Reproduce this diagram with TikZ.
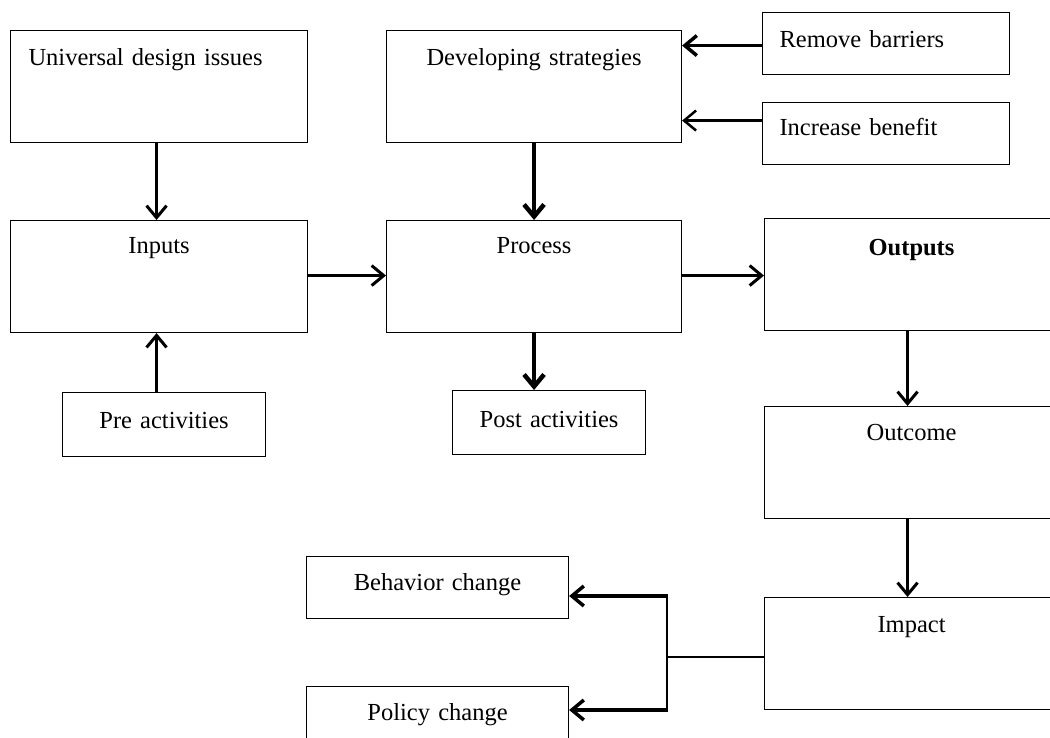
\documentclass[tikz,border=0pt]{standalone}
\usepackage{fontspec}
\setmainfont{Liberation Serif}
\usetikzlibrary{arrows.meta,calc}
\begin{document}
\begin{tikzpicture}[x=1pt,y=-1pt,
  box/.style={draw, line width=1.1pt, inner ysep=0pt, anchor=north west,
    font=\fontsize{24.5}{28}\selectfont},
  arr/.style={-{Straight Barb[length=12pt,width=20pt]}, line width=3pt},
  thickarr/.style={-{Straight Barb[length=12pt,width=20pt]}, line width=4.5pt},
]
\fill[white] (0,0) rectangle (1050,738);
\useasboundingbox (0,0) rectangle (1050,738);

% boxes
\node[box, inner xsep=18pt, text width=261pt, align=left, text height=35pt, text depth=77pt] (ud) at (10,30) {Universal design issues};
\node[box, inner xsep=18pt, text width=261pt, align=center, text height=33pt, text depth=79pt] (inp) at (10,220) {Inputs};
\node[box, inner xsep=18pt, text width=167pt, align=center, text height=36pt, text depth=28pt] (pre) at (62,392) {Pre activities};
\node[box, inner xsep=18pt, text width=259pt, align=center, text height=35pt, text depth=77pt] (dev) at (386,30) {Developing strategies};
\node[box, inner xsep=18pt, text width=259pt, align=center, text height=33pt, text depth=79pt] (proc) at (386,220) {Process};
\node[box, inner xsep=18pt, text width=157pt, align=center, text height=37pt, text depth=27pt] (post) at (452,390) {Post activities};
\node[box, inner xsep=17pt, text width=213pt, align=left, text height=35pt, text depth=27pt] (rb) at (762,12) {Remove barriers};
\node[box, inner xsep=17pt, text width=213pt, align=left, text height=33pt, text depth=29pt] (ib) at (762,102) {Increase benefit};
\node[box, inner xsep=18pt, text width=258pt, align=center, text height=37pt, text depth=75pt] (out) at (764,218) {\textbf{Outputs}};
\node[box, inner xsep=18pt, text width=258pt, align=center, text height=34pt, text depth=78pt] (outc) at (764,406) {Outcome};
\node[box, inner xsep=18pt, text width=258pt, align=center, text height=35pt, text depth=77pt] (imp) at (764,597) {Impact};
\node[box, inner xsep=18pt, text width=226pt, align=center, text height=34pt, text depth=28pt] (beh) at (306,556) {Behavior change};
\node[box, inner xsep=18pt, text width=226pt, align=center, text height=34pt, text depth=30pt] (pol) at (306,686) {Policy change};

% connectors
\draw[arr] ([xshift=-2.5pt]ud.south) -- ([xshift=-2.5pt]inp.north);
\draw[arr] ([xshift=-2.5pt]pre.north -| inp.south) -- ([xshift=-2.5pt]inp.south);
\draw[arr] ([yshift=1pt]inp.east) -- ([yshift=1pt]inp.east -| proc.west);
\draw[thickarr] (dev.south) -- (proc.north);
\draw[thickarr] (proc.south) -- (proc.south |- post.north);
\draw[arr] ([yshift=1pt]proc.east) -- ([yshift=1pt]proc.east -| out.west);
\draw[arr, line width=3.5pt] ([yshift=-2pt]rb.west) -- ([yshift=-2pt]rb.west -| dev.east);
\draw[arr, line width=2.5pt] ([yshift=13pt]ib.west) -- ([yshift=13pt]ib.west -| dev.east);
\draw[arr] ([xshift=-4pt]out.south) -- ([xshift=-4pt]outc.north);
\draw[arr] ([xshift=-4pt]outc.south) -- ([xshift=-4pt]imp.north);

\coordinate (j) at (667,657);
\coordinate (jb) at (667,596);
\coordinate (jp) at (667,710);
\draw[line width=1.3pt] (imp.west |- j) -- (j);
\draw[line width=2.5pt] (jb) -- (jp);
\draw[arr, line width=3.5pt] ([xshift=1.25pt]jb) -- (jb -| beh.east);
\draw[arr, line width=3.5pt] ([xshift=1.25pt]jp) -- (jp -| pol.east);
\end{tikzpicture}
\end{document}
